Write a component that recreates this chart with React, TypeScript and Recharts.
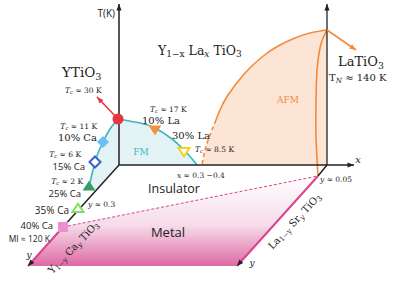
import React from "react";
import { ComposedChart, XAxis, YAxis, Line, Area, Scatter } from "recharts";

const SERIF = "'DejaVu Serif', serif";
const SANS = "'Open Sans', sans-serif";
const TEAL = "#3db5c2";
const ORANGE = "#f28a3e";
const PINK = "#d9438e";
const INK = "#222";

// sketch space: 399 x 289, y grows downwards
const tAxisY = [{ x: 119, y: 165 }, { x: 119, y: 4 }];
const tAxisLa = [{ x: 327, y: 165 }, { x: 327, y: 4 }];
const xAxisLine = [{ x: 119, y: 165 }, { x: 354, y: 165 }];
const caAxis = [{ x: 119, y: 165 }, { x: 63, y: 227 }];
const caAxisMetal = [{ x: 63, y: 227 }, { x: 28, y: 266 }];
const srAxis = [{ x: 327, y: 165 }, { x: 318, y: 176 }];
const srAxisMetal = [{ x: 318, y: 176 }, { x: 237, y: 266 }];
const metalEdge = [{ x: 63, y: 227 }, { x: 318, y: 176 }];
const ytioArrow = [{ x: 118, y: 119 }, { x: 97, y: 97 }];
const latioArrow = [{ x: 327, y: 30 }, { x: 356, y: 50 }];

// phase boundaries
const fmLa = [
  { x: 118, y: 119 }, { x: 140, y: 123 }, { x: 155, y: 128 }, { x: 172, y: 139 },
  { x: 184, y: 150 }, { x: 193, y: 160 }, { x: 197, y: 165 },
];
const fmCa = [
  { x: 118, y: 119 }, { x: 110, y: 129 }, { x: 103, y: 142 }, { x: 98, y: 153 },
  { x: 95, y: 162 }, { x: 92, y: 174 }, { x: 89, y: 187 },
];
const afmSolid = [
  { x: 327, y: 30 }, { x: 310, y: 33 }, { x: 295, y: 38 }, { x: 278, y: 46 },
  { x: 262, y: 57 }, { x: 245, y: 73 }, { x: 228, y: 95 }, { x: 220, y: 110 },
  { x: 216, y: 120 },
];
const afmDashed = [{ x: 216, y: 120 }, { x: 210, y: 135 }, { x: 205, y: 150 }, { x: 202, y: 165 }];
const afmSr = [
  { x: 327, y: 30 }, { x: 323, y: 38 }, { x: 320, y: 48 }, { x: 317, y: 70 },
  { x: 316, y: 103 }, { x: 316, y: 137 }, { x: 318, y: 176 },
];

// filled regions [top, bottom]
const fmRegion = [
  { x: 89, r: [187, 187] }, { x: 95, r: [162, 191.6] }, { x: 98, r: [153, 188.2] },
  { x: 103, r: [142, 182.7] }, { x: 110, r: [129, 175] }, { x: 118, r: [119.2, 166] },
  { x: 119, r: [119, 165] }, { x: 140, r: [123, 165] }, { x: 155, r: [128, 165] },
  { x: 172, r: [139, 165] }, { x: 184, r: [150, 165] }, { x: 193, r: [160, 165] },
  { x: 197, r: [165, 165] },
];
const afmRegion = [
  { x: 202, r: [165, 165] }, { x: 205, r: [150, 165] }, { x: 210, r: [135, 165] },
  { x: 216, r: [120, 165] }, { x: 220, r: [110, 165] }, { x: 228, r: [95, 165] },
  { x: 245, r: [73, 165] }, { x: 262, r: [57, 165] }, { x: 278, r: [46, 165] },
  { x: 295, r: [38, 165] }, { x: 310, r: [33, 165] }, { x: 327, r: [30, 165] },
];
const metalRegion = [
  { x: 28, r: [266, 266] }, { x: 63, r: [227, 266] }, { x: 237, r: [192, 266] },
  { x: 318, r: [176, 176] },
];

// samples
const ytio = [{ x: 118, y: 119 }];
const la10 = [{ x: 155, y: 129 }];
const la30 = [{ x: 184, y: 151 }];
const ca10 = [{ x: 103, y: 142 }];
const ca15 = [{ x: 95, y: 162 }];
const ca25 = [{ x: 89, y: 187 }];
const ca35 = [{ x: 78, y: 209 }];
const ca40 = [{ x: 63, y: 227 }];

const tip = (l: { x: number; y: number }[]) => {
  const a = l[l.length - 2], b = l[l.length - 1];
  return { x: b.x, y: b.y, angle: (Math.atan2(b.y - a.y, b.x - a.x) * 180) / Math.PI };
};
const blackHeads = [tAxisY, tAxisLa, xAxisLine, caAxisMetal, srAxisMetal].map(tip);
const redHeads = [tip(ytioArrow)];
const orangeHeads = [tip(latioArrow)];

type Part = string | { s: string; sub?: boolean; it?: boolean };
const tc = (v: string): Part[] => [{ s: "T", it: true }, { s: "c", sub: true, it: true }, ` ≈ ${v}`];

const labels: {
  x: number; y: number; a: "start" | "middle" | "end"; f: string; fs: number;
  c?: string; rot?: number; it?: boolean; p: Part[];
}[] = [
  { x: 115, y: 13, a: "end", f: SANS, fs: 10, p: ["T(K)"] },
  { x: 158, y: 50, a: "start", f: SERIF, fs: 12.5, p: ["Y", { s: "1−x", sub: true }, " La", { s: "x", sub: true, it: true }, " TiO", { s: "3", sub: true }] },
  { x: 62, y: 72, a: "start", f: SERIF, fs: 13.5, p: ["YTiO", { s: "3", sub: true }] },
  { x: 65, y: 90, a: "start", f: SERIF, fs: 7.5, p: tc("30 K") },
  { x: 150, y: 109, a: "start", f: SERIF, fs: 7.5, p: tc("17 K") },
  { x: 142, y: 120, a: "start", f: SERIF, fs: 10, p: ["10% La"] },
  { x: 172, y: 135, a: "start", f: SERIF, fs: 10, p: ["30% La"] },
  { x: 195, y: 149, a: "start", f: SERIF, fs: 7.5, p: tc("8.5 K") },
  { x: 97, y: 126, a: "end", f: SERIF, fs: 7.5, p: tc("11 K") },
  { x: 97, y: 137, a: "end", f: SERIF, fs: 10, p: ["10% Ca"] },
  { x: 141, y: 152, a: "middle", f: SERIF, fs: 9, c: TEAL, p: ["FM"] },
  { x: 81, y: 154, a: "end", f: SERIF, fs: 7.5, p: tc("6 K") },
  { x: 85, y: 165.5, a: "end", f: SANS, fs: 9.5, p: ["15% Ca"] },
  { x: 83, y: 181, a: "end", f: SERIF, fs: 7.5, p: tc("2 K") },
  { x: 81, y: 193, a: "end", f: SANS, fs: 9.5, p: ["25% Ca"] },
  { x: 88, y: 204, a: "start", f: SERIF, fs: 7.5, p: [{ s: "y", it: true }, " ≈ 0.3"] },
  { x: 69, y: 210, a: "end", f: SANS, fs: 10, p: ["35% Ca"] },
  { x: 53, y: 225, a: "end", f: SANS, fs: 9.5, p: ["40% Ca"] },
  { x: 50, y: 237.5, a: "end", f: SANS, fs: 8.5, p: ["MI ≈ 120 K"] },
  { x: 29, y: 255, a: "middle", f: SERIF, fs: 9, it: true, p: ["y"] },
  { x: 73, y: 247, a: "middle", f: SERIF, fs: 10, rot: -46, p: ["Y", { s: "1−y", sub: true }, " Ca", { s: "y", sub: true, it: true }, " TiO", { s: "3", sub: true }] },
  { x: 174, y: 188, a: "middle", f: SANS, fs: 12.5, p: ["Insulator"] },
  { x: 168, y: 232, a: "middle", f: SANS, fs: 13, p: ["Metal"] },
  { x: 177, y: 175, a: "start", f: SERIF, fs: 7.5, p: [{ s: "x", it: true }, " ≈ 0.3 −0.4"] },
  { x: 288, y: 100, a: "middle", f: SERIF, fs: 9, c: ORANGE, p: ["AFM"] },
  { x: 338, y: 61, a: "start", f: SERIF, fs: 13, p: ["LaTiO", { s: "3", sub: true }] },
  { x: 329, y: 77, a: "start", f: SERIF, fs: 10, p: ["T", { s: "N", sub: true, it: true }, " ≈ 140 K"] },
  { x: 358, y: 159, a: "middle", f: SERIF, fs: 10, it: true, p: ["x"] },
  { x: 320, y: 179, a: "start", f: SERIF, fs: 7.5, p: [{ s: "y", it: true }, " ≈ 0.05"] },
  { x: 294, y: 221, a: "middle", f: SERIF, fs: 10, rot: -47, p: ["La", { s: "1−y", sub: true }, " Sr", { s: "y", sub: true, it: true }, " TiO", { s: "3", sub: true }] },
  { x: 252, y: 263, a: "middle", f: SERIF, fs: 9, it: true, p: ["y"] },
];

function rich(parts: Part[], d: number) {
  let prev = false;
  return parts.map((p, i) => {
    const o = typeof p === "string" ? { s: p } : p;
    const dy = (o.sub ? d : 0) - (prev ? d : 0);
    prev = !!o.sub;
    return (
      <tspan key={i} dy={dy || undefined} fontSize={o.sub ? "72%" : undefined} fontStyle={o.it ? "italic" : undefined}>
        {o.s}
      </tspan>
    );
  });
}

const LabelShape = (props: any) => {
  const { cx, cy, payload: l } = props;
  return (
    <text
      x={cx} y={cy} textAnchor={l.a} dominantBaseline="central" fontFamily={l.f} fontSize={l.fs}
      fill={l.c || INK} fontStyle={l.it ? "italic" : undefined}
      transform={l.rot ? `rotate(${l.rot} ${cx} ${cy})` : undefined} style={{ whiteSpace: "pre" }}
    >
      {rich(l.p, l.fs * 0.28)}
    </text>
  );
};

const head = (color: string) => (props: any) => (
  <path
    d="M0,0 L-6.5,-2.6 L-6.5,2.6 Z" fill={color}
    transform={`translate(${props.cx},${props.cy}) rotate(${props.payload.angle})`}
  />
);

const tri = (color: string, down: boolean, hollow: boolean, s = 6.5) => (props: any) => {
  const { cx, cy } = props;
  const k = down ? -1 : 1;
  const d = `M${cx - s},${cy + k * s * 0.55} L${cx + s},${cy + k * s * 0.55} L${cx},${cy - k * s * 0.95} Z`;
  return hollow
    ? <path d={d} fill="#fff" stroke={color} strokeWidth={2} strokeLinejoin="miter" />
    : <path d={d} fill={color} />;
};
const diamond = (color: string, hollow: boolean, s = 6) => (props: any) => {
  const { cx, cy } = props;
  const d = `M${cx},${cy - s} L${cx + s},${cy} L${cx},${cy + s} L${cx - s},${cy} Z`;
  return hollow
    ? <path d={d} fill="#fff" stroke={color} strokeWidth={2} />
    : <path d={d} fill={color} />;
};
const square = (color: string, s = 5) => (props: any) => (
  <rect x={props.cx - s} y={props.cy - s} width={2 * s} height={2 * s} fill={color} />
);
const dotShape = (color: string, r = 5.5) => (props: any) => (
  <circle cx={props.cx} cy={props.cy} r={r} fill={color} />
);

const lineProps = { dataKey: "y", dot: false, activeDot: false, isAnimationActive: false } as const;

export default function App() {
  return (
    <div style={{ position: "absolute", left: 0, top: 0, width: 399, height: 289, background: "#fff" }}>
      <ComposedChart width={399} height={289} margin={{ top: 0, right: 0, bottom: 0, left: 0 }}>
        <defs>
          <linearGradient id="metalFill" x1="0" y1="0" x2="0" y2="1">
            <stop offset="0" stopColor="#ffffff" />
            <stop offset="0.55" stopColor="#f6dbe9" />
            <stop offset="1" stopColor="#dd6aa3" />
          </linearGradient>
        </defs>
        <XAxis type="number" dataKey="x" domain={[0, 399]} hide allowDataOverflow />
        <YAxis type="number" domain={[0, 289]} reversed hide allowDataOverflow />

        <Area data={metalRegion} dataKey="r" type="linear" stroke="none" fill="url(#metalFill)" fillOpacity={1} isAnimationActive={false} activeDot={false} />
        <Area data={fmRegion} dataKey="r" type="monotone" stroke="none" fill="#e3f3f5" fillOpacity={1} isAnimationActive={false} activeDot={false} />
        <Area data={afmRegion} dataKey="r" type="monotone" stroke="none" fill="#fce5d5" fillOpacity={1} isAnimationActive={false} activeDot={false} />

        <Line {...lineProps} data={metalEdge} stroke={PINK} strokeWidth={1} strokeDasharray="3 2" />
        <Line {...lineProps} data={fmLa} type="natural" stroke={TEAL} strokeWidth={1.6} />
        <Line {...lineProps} data={fmCa} type="natural" stroke={TEAL} strokeWidth={1.6} />
        <Line {...lineProps} data={afmSolid} type="natural" stroke={ORANGE} strokeWidth={1.6} />
        <Line {...lineProps} data={afmDashed} type="natural" stroke={ORANGE} strokeWidth={1.6} strokeDasharray="4 3" />
        <Line {...lineProps} data={afmSr} type="natural" stroke={ORANGE} strokeWidth={1.6} />

        <Line {...lineProps} data={tAxisY} stroke="#555" strokeWidth={2} />
        <Line {...lineProps} data={tAxisLa} stroke="#222" strokeWidth={1.3} />
        <Line {...lineProps} data={xAxisLine} stroke="#222" strokeWidth={1.5} />
        <Line {...lineProps} data={caAxis} stroke="#222" strokeWidth={1.5} />
        <Line {...lineProps} data={srAxis} stroke="#222" strokeWidth={1.5} />
        <Line {...lineProps} data={caAxisMetal} stroke={PINK} strokeWidth={2} />
        <Line {...lineProps} data={srAxisMetal} stroke={PINK} strokeWidth={2} />
        <Line {...lineProps} data={ytioArrow} stroke="#e5383e" strokeWidth={1.6} />
        <Line {...lineProps} data={latioArrow} stroke={ORANGE} strokeWidth={1.6} />

        <Scatter data={blackHeads} dataKey="y" shape={head("#222")} isAnimationActive={false} />
        <Scatter data={redHeads} dataKey="y" shape={head("#e5383e")} isAnimationActive={false} />
        <Scatter data={orangeHeads} dataKey="y" shape={head(ORANGE)} isAnimationActive={false} />

        <Scatter data={ytio} dataKey="y" shape={dotShape("#e5383e")} isAnimationActive={false} />
        <Scatter data={la10} dataKey="y" shape={tri("#f7903c", true, false)} isAnimationActive={false} />
        <Scatter data={la30} dataKey="y" shape={tri("#f3d21c", true, true, 5.5)} isAnimationActive={false} />
        <Scatter data={ca10} dataKey="y" shape={diamond("#66bff5", false)} isAnimationActive={false} />
        <Scatter data={ca15} dataKey="y" shape={diamond("#3b5fc9", true, 5.5)} isAnimationActive={false} />
        <Scatter data={ca25} dataKey="y" shape={tri("#3a9c68", false, false)} isAnimationActive={false} />
        <Scatter data={ca35} dataKey="y" shape={tri("#7fe05e", false, true, 5.5)} isAnimationActive={false} />
        <Scatter data={ca40} dataKey="y" shape={square("#ee8fd0")} isAnimationActive={false} />

        <Scatter data={labels} dataKey="y" shape={LabelShape} isAnimationActive={false} />
      </ComposedChart>
    </div>
  );
}
